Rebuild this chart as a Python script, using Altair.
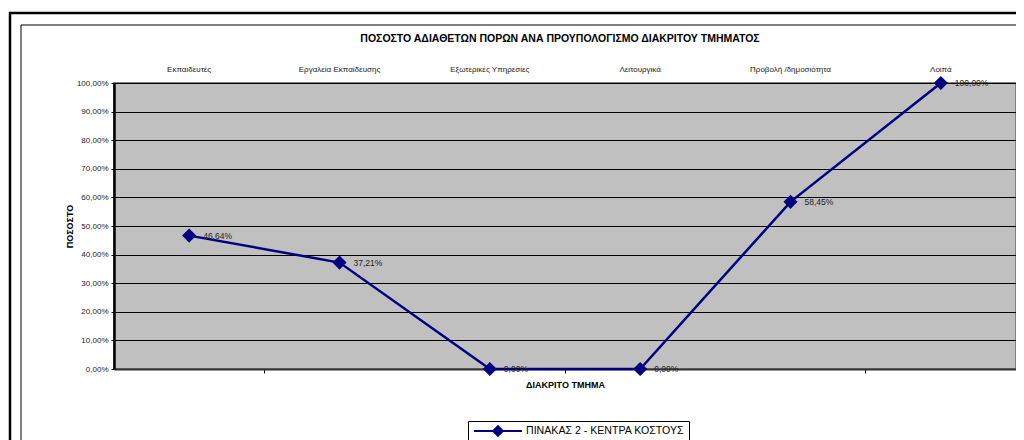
import altair as alt
import pandas as pd

categories = ["Εκπαιδευτές", "Εργαλεία Εκπαίδευσης", "Εξωτερικές Υπηρεσίες",
              "Λειτουργικά", "Προβολή /δημοσιότητα", "Λοιπά"]
values = [46.64, 37.21, 0.00, 0.00, 58.45, 100.00]
series_name = "ΠΙΝΑΚΑΣ 2 - ΚΕΝΤΡΑ ΚΟΣΤΟΥΣ"
y_ticks = [0, 10, 20, 30, 40, 50, 60, 70, 80, 90, 100]

title_text = "ΠΟΣΟΣΤΟ ΑΔΙΑΘΕΤΩΝ ΠΟΡΩΝ ΑΝΑ ΠΡΟΥΠΟΛΟΓΙΣΜΟ ΔΙΑΚΡΙΤΟΥ  ΤΜΗΜΑΤΟΣ"
x_title = "ΔΙΑΚΡΙΤΟ ΤΜΗΜΑ"
y_title = "ΠΟΣΟΣΤΟ"

NAVY = "#000080"
FONT = "Liberation Sans"

df = pd.DataFrame({
    "cat": categories,
    "val": [v / 100 for v in values],
    "series": series_name,
    "label": [f"{v:.2f}%".replace(".", ",") for v in values],
})

PW, PH = 902, 286

xscale = alt.Scale(type="band", domain=categories, paddingInner=0, paddingOuter=0)
yscale = alt.Scale(domain=[0, 1], nice=False)

base = alt.Chart(df)

frame_data = pd.DataFrame({"a": [0]})
outer = alt.Chart(frame_data).mark_rect(fillOpacity=0, stroke="black", strokeWidth=2.5).encode(
    x=alt.value(-104), x2=alt.value(1000), y=alt.value(-70), y2=alt.value(600)
)
inner = alt.Chart(frame_data).mark_rect(fillOpacity=0, stroke="black", strokeWidth=1).encode(
    x=alt.value(-93), x2=alt.value(PW + 1), y=alt.value(-58), y2=alt.value(600)
)

yaxis = alt.Axis(orient="left", values=[t / 100 for t in y_ticks], title=y_title,
                 labelExpr="replace(format(datum.value, '.2%'), '.', ',')",
                 labelFontSize=8, labelFont=FONT, labelColor="#222",
                 labelPadding=3, tickSize=3, tickColor="black",
                 domainColor="black", domainWidth=2.5,
                 grid=True, gridColor="black", gridWidth=1,
                 titleFont=FONT, titleFontSize=9, titleFontWeight="bold",
                 titleColor="black", titlePadding=2)

line = base.mark_line(strokeWidth=2.5).encode(
    x=alt.X("cat:N", scale=xscale, sort=categories,
            axis=alt.Axis(orient="top", title=None, domain=False, ticks=False,
                          labelAngle=0, labelFontSize=8, labelPadding=10,
                          labelColor="#222", labelFont=FONT)),
    y=alt.Y("val:Q", scale=yscale, axis=yaxis),
    color=alt.Color("series:N", scale=alt.Scale(range=[NAVY]),
                    legend=alt.Legend(title=None, orient="none", legendX=354, legendY=338,
                                      symbolType="M-5,0L5,0M0,-1L1,0L0,1L-1,0Z",
                                      symbolSize=92, symbolStrokeWidth=2,
                                      symbolOffset=20,
                                      symbolFillColor=NAVY, symbolStrokeColor=NAVY,
                                      labelFontSize=10.6, labelFont=FONT, labelColor="black",
                                      labelOffset=22, padding=4,
                                      strokeColor="black", fillColor="white")),
)

points = base.mark_point(shape="diamond", filled=True, size=200, color=NAVY, opacity=1).encode(
    x=alt.X("cat:N", scale=xscale, sort=categories,
            axis=alt.Axis(orient="bottom", values=[categories[0], categories[2], categories[4]],
                          bandPosition=1, labels=False, tickSize=4, tickColor="black",
                          domainColor="#333", domainWidth=2, title=x_title,
                          titleFont=FONT, titleFontSize=9, titleFontWeight="bold",
                          titleColor="black", titlePadding=7)),
    y=alt.Y("val:Q", scale=yscale, axis=yaxis),
)

labels = base.mark_text(align="left", baseline="middle", dx=14, fontSize=8.5,
                        font=FONT, color="#222").encode(
    x=alt.X("cat:N", scale=xscale, sort=categories, axis=None),
    y=alt.Y("val:Q", scale=yscale, axis=yaxis),
    text="label:N",
)

chart = alt.layer(outer, inner, line, points, labels).properties(
    width=PW, height=PH,
    title=alt.TitleParams(title_text, font=FONT, fontSize=10.5, fontWeight="bold",
                          color="black", anchor="middle", frame="group",
                          baseline="middle", dx=-5, dy=38, offset=0),
    autosize=alt.AutoSizeParams(type="none"),
    padding={"left": 106, "top": 75, "right": 0, "bottom": 71},
    background="white",
).configure_view(
    fill="#C0C0C0", stroke="#808080", strokeWidth=2
)

chart.save("out.html", embed_options={"renderer": "svg", "actions": False})
